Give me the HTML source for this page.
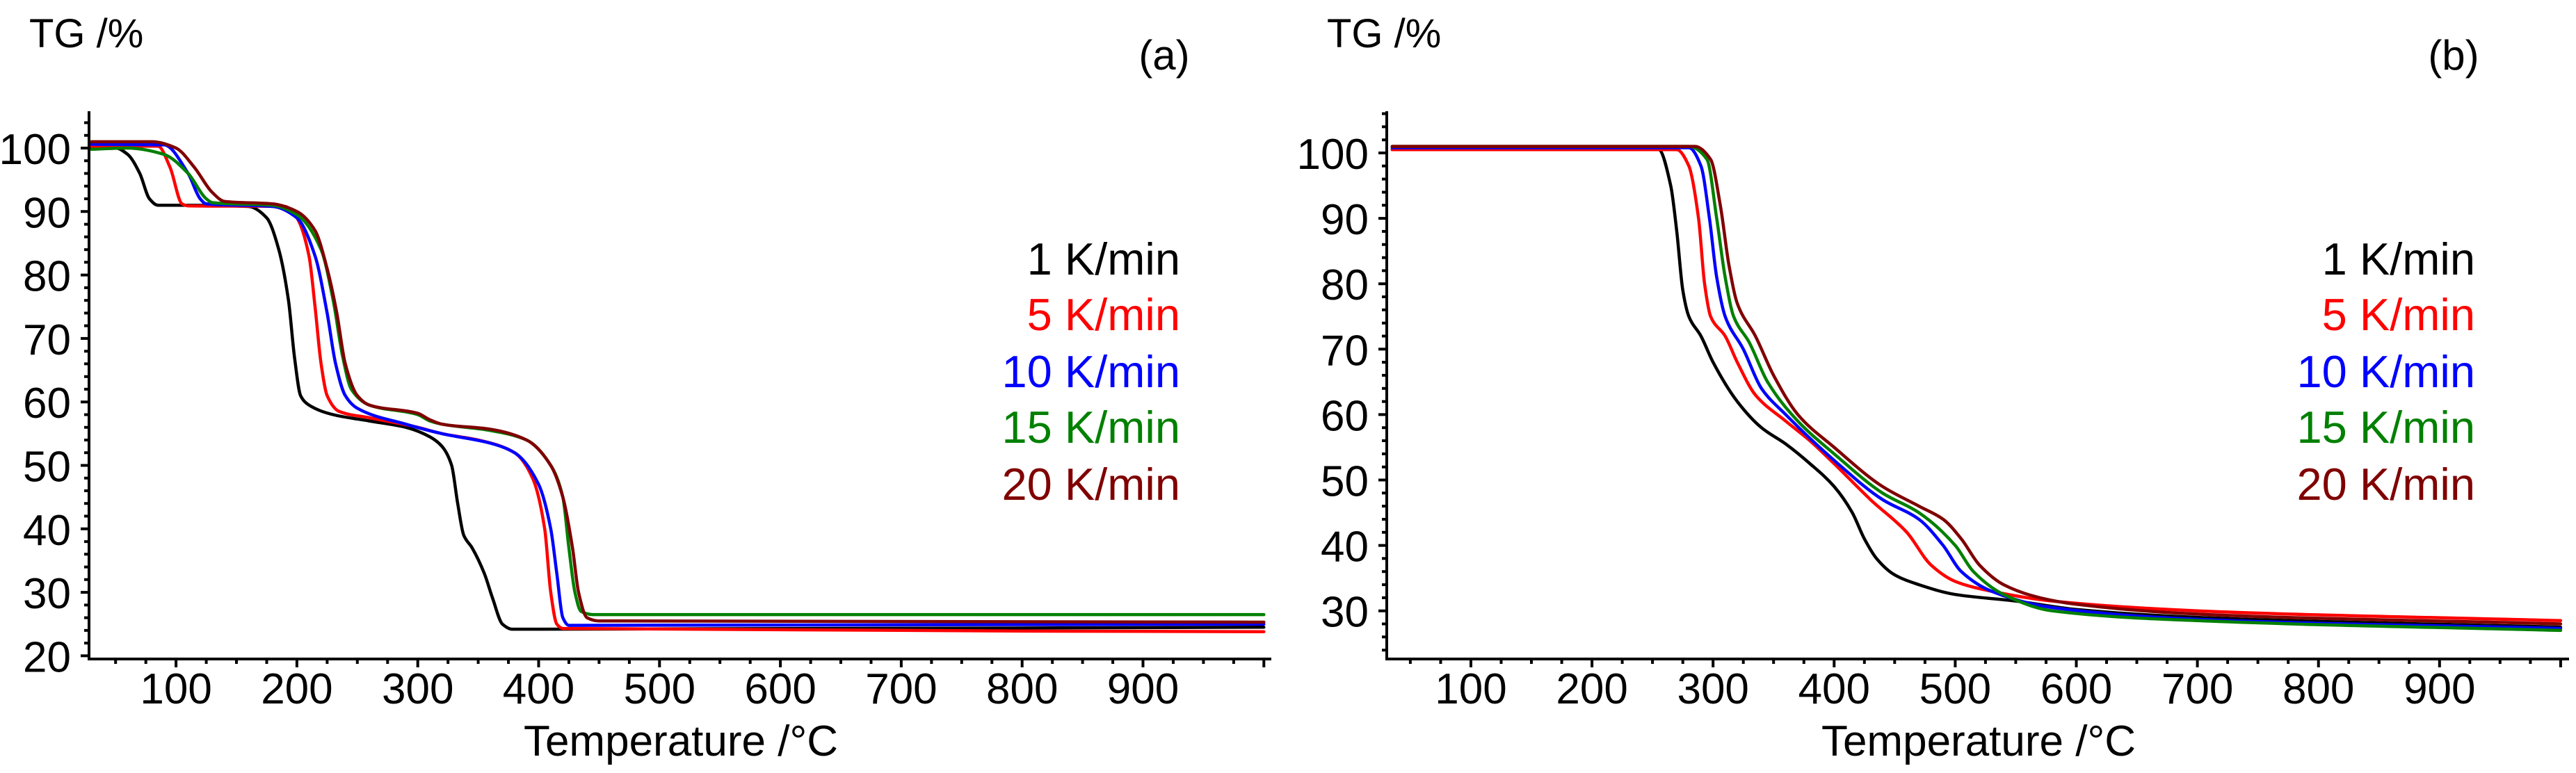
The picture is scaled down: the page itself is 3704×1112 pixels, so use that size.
<!DOCTYPE html>
<html><head><meta charset="utf-8"><style>
html,body{margin:0;padding:0;background:#fff;}
svg{display:block;font-family:"Liberation Sans",Arial,sans-serif;}
</style></head><body>
<svg id="chart" width="3704" height="1112" viewBox="0 0 3704 1112" xmlns="http://www.w3.org/2000/svg"></svg>
<script>
// ---- data ----
const seriesLabels = ["1 K/min","5 K/min","10 K/min","15 K/min","20 K/min"];
const seriesColors = ["#000000","#ff0000","#0000ff","#008000","#800000"];
const xTickLabels = [100,200,300,400,500,600,700,800,900];
const yTicksA = [20,30,40,50,60,70,80,90,100];
const yTicksB = [30,40,50,60,70,80,90,100];

const a1T = [30,50,60,70,78,85,100,160,175,185,193,198,203,210,230,260,290,310,320,328,333,338,345,355,362,370,378,400,1000];
const a1W = [100,100,99,96,92,91,91,90.8,89,84,76,67,61,59.5,58,57,56,54.5,53,50,44,39,37,33,29,25,24.2,24.2,24.5];
const a5T = [30,85,95,105,110,190,200,210,215,220,225,235,260,300,320,350,380,395,405,410,415,420,1000];
const a5W = [100.3,100.3,97,91.2,90.9,90.8,89,83,75,66,61,58.5,57.5,56,55,54,52,48,40,30,25,24.3,23.8];
const a10T = [30,90,110,120,125,180,200,215,225,232,240,250,290,320,360,380,400,410,415,420,425,1000];
const a10W = [100.6,100.5,96,92,91.2,90.8,89,83,74,66,61,59,56.5,55,53.5,52,47,40,33,26,24.8,25];
const a15T = [30,60,90,110,125,130,180,200,220,230,238,245,260,300,310,320,360,390,410,420,425,430,435,445,1000];
const a15W = [99.8,100,99,96,92,91.4,91,89.5,84,76,67,62,59.5,58,57,56.5,55.5,54,50,45,37,30,27,26.5,26.5];
const a20T = [30,80,100,115,130,140,180,200,215,225,233,240,250,260,300,310,320,360,390,410,420,428,433,440,450,1000];
const a20W = [101,101,100,97,93,91.6,91.2,90,87,81,74,66,61,59.5,58.2,57.2,56.5,55.7,54,50,45,37,30,26,25.5,25.3];

const b1T = [35,255,265,270,275,280,290,300,320,340,360,380,400,415,425,435,450,470,500,550,600,700,1000];
const b1W = [100.5,100.5,95,88,79,75,72,68,62,58,55.5,52.5,49,45,41,38,35.5,34,32.5,31.5,30.2,29,27.5];
const b5T = [35,270,280,288,293,298,310,320,335,360,380,400,430,460,480,500,530,580,700,1000];
const b5W = [100.5,100.5,98,90,80,75,72,68,63,59,56,52.5,47,42,37,34.5,33,31.5,30,28.5];
const b10T = [35,280,290,297,303,310,325,340,360,400,440,470,490,505,530,580,700,1000];
const b10W = [100.8,100.8,98,90,81,75,70,64,60,53,47,44,40,36,33,30.5,28.7,27.3];
const b15T = [35,280,295,303,310,317,330,345,370,400,440,470,500,515,540,580,700,1000];
const b15W = [101,101,99,90,81,75,71,65,59,54,48,45,40,36,32.5,30,28.5,27];
const b20T = [35,285,298,306,313,320,335,350,370,400,440,470,490,505,520,540,570,600,700,1000];
const b20W = [101,101,99,92,83,77,72,66,60,55,49,46,44,41,37,34,32,31,29.5,28];

const panelA = {id:"a", ox:128, x0:28, pxPer100:173.8, yTop:160, yBot:948, y100:213, pxPer10:91.3, xEnd:1828,
  yTicks:yTicksA, yMinorMin:20, legendRight:1697, tagX:1674, title:"(a)",
  Ts:[a1T,a5T,a10T,a15T,a20T], Ws:[a1W,a5W,a10W,a15W,a20W]};
const panelB = {id:"b", ox:1994, x0:30.5, pxPer100:174.1, yTop:160, yBot:948, y100:220, pxPer10:94.1, xEnd:3694,
  yTicks:yTicksB, yMinorMin:24, legendRight:3559, tagX:3528, title:"(b)",
  Ts:[b1T,b5T,b10T,b15T,b20T], Ws:[b1W,b5W,b10W,b15W,b20W]};

const svg = document.getElementById('chart');
const NS = "http://www.w3.org/2000/svg";
function mk(tag, attrs){const e=document.createElementNS(NS,tag);for(const k in attrs)e.setAttribute(k,attrs[k]);return e;}

// monotone cubic path through pixel points
function monoPath(X,Y){
  const n=X.length; const dx=[],m=[],t=new Array(n);
  for(let i=0;i<n-1;i++){dx.push(X[i+1]-X[i]); m.push((Y[i+1]-Y[i])/(dx[i]||1e-6));}
  t[0]=m[0]; t[n-1]=m[n-2];
  for(let i=1;i<n-1;i++){
    if(m[i-1]*m[i]<=0) t[i]=0;
    else { const w1=2*dx[i]+dx[i-1], w2=dx[i]+2*dx[i-1]; t[i]=(w1+w2)/(w1/m[i-1]+w2/m[i]); }
  }
  let d=`M${X[0].toFixed(1)},${Y[0].toFixed(1)}`;
  for(let i=0;i<n-1;i++){
    const h=dx[i]/3;
    d+=` C${(X[i]+h).toFixed(1)},${(Y[i]+t[i]*h).toFixed(1)} ${(X[i+1]-h).toFixed(1)},${(Y[i+1]-t[i+1]*h).toFixed(1)} ${X[i+1].toFixed(1)},${Y[i+1].toFixed(1)}`;
  }
  return d;
}

function drawPanel(p){
  const g = mk('g',{});
  
  
  svg.appendChild(g);
  const xs = t => p.ox + (t - p.x0) / 100 * p.pxPer100;
  const ys = w => p.y100 + (100 - w) / 10 * p.pxPer10;

  for (let i=0;i<p.Ts.length;i++){
    const T=p.Ts[i], W=p.Ws[i];
    const X=T.map(t=>xs(Math.max(t,p.x0))), Y=W.map(ys);
    const pl = mk('path',{d:monoPath(X,Y),fill:'none',stroke:seriesColors[i],'stroke-width':4.5,'stroke-linejoin':'round','stroke-linecap':'round'});
    
    
    g.appendChild(pl);
  }
  const ax = mk('path',{d:`M${p.ox},${p.yTop} L${p.ox},${p.yBot} L${p.xEnd},${p.yBot}`,fill:'none',stroke:'#000','stroke-width':4});
  
  
  g.appendChild(ax);
  let d='';
  for(let t=50;t<=1000;t+=25){
    const x=xs(t); if(x<p.ox+5||x>p.xEnd) continue;
    const len = (t%100===0)?12:7;
    d+=`M${x.toFixed(1)},${p.yBot} L${x.toFixed(1)},${p.yBot+len} `;
  }
  for(let w=p.yMinorMin; w<=106; w+=2){
    const y=ys(w); if(y<p.yTop||y>p.yBot) continue;
    const len=(w%10===0)?12:7;
    d+=`M${p.ox},${y.toFixed(1)} L${p.ox-len},${y.toFixed(1)} `;
  }
  const tk=mk('path',{d:d,stroke:'#000','stroke-width':4,fill:'none'});
  
  
  g.appendChild(tk);
  for(const t of xTickLabels){
    const tx=mk('text',{x:xs(t),y:1012,'text-anchor':'middle','font-size':62});
    
    
    tx.textContent=t; g.appendChild(tx);
  }
  for(const w of p.yTicks){
    const tx=mk('text',{x:p.ox-26,y:ys(w)+23,'text-anchor':'end','font-size':62});
    
    
    tx.textContent=w; g.appendChild(tx);
  }
  const xt=mk('text',{x:p.ox+851,y:1087,'text-anchor':'middle','font-size':62});
  
  
  xt.textContent='Temperature /°C'; g.appendChild(xt);
  const yt=mk('text',{x:p.ox-86,y:68,'font-size':58});
  
  
  yt.textContent='TG /%'; g.appendChild(yt);
  const tg=mk('text',{x:p.tagX,y:100,'text-anchor':'middle','font-size':60});
  
  
  tg.textContent=p.title; g.appendChild(tg);
  const base=[395,475,557,637,719];
  for(let i=0;i<seriesLabels.length;i++){
    const lt=mk('text',{x:p.legendRight,y:base[i],'text-anchor':'end','font-size':65,fill:seriesColors[i]});
    
    
    lt.textContent=seriesLabels[i]; g.appendChild(lt);
  }
}
drawPanel(panelA);
drawPanel(panelB);
</script>
</body></html>
